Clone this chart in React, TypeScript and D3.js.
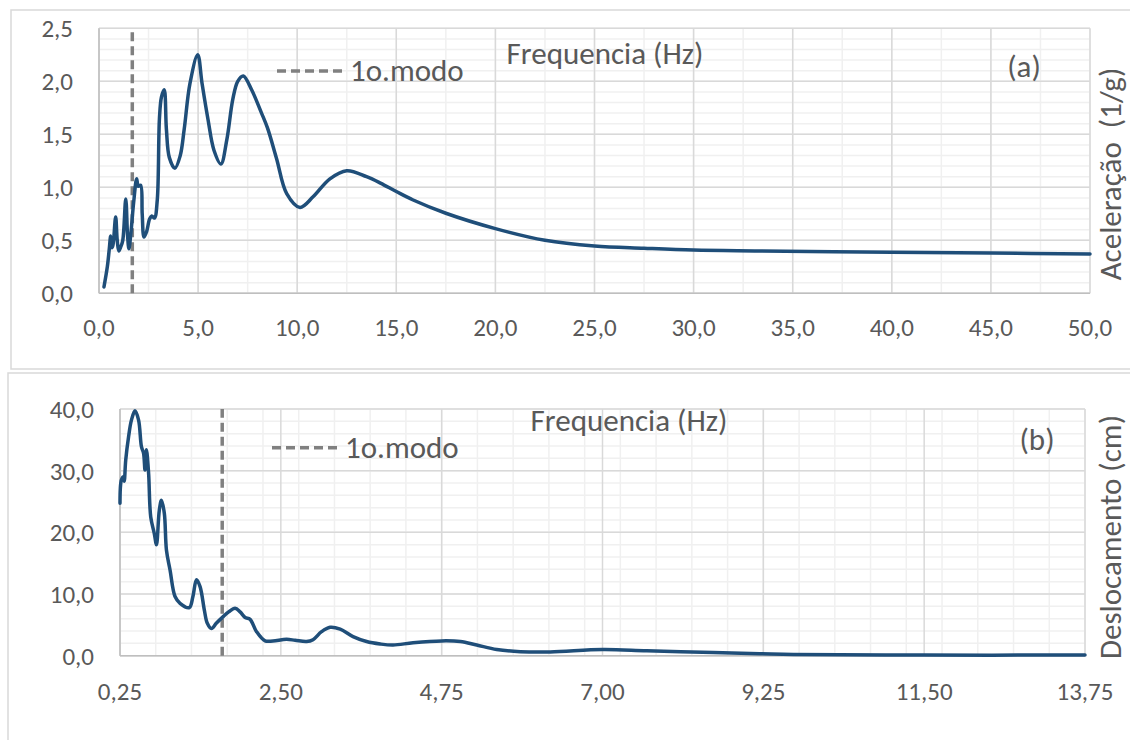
import React from "react";
import * as d3 from "d3";

// ---- Data ----
const accFreq = [0.25,0.42,0.52,0.59,0.65,0.70,0.84,0.92,1.0,1.1,1.2,1.35,1.44,1.51,1.6,1.75,1.9,1.98,2.1,2.18,2.27,2.4,2.55,2.66,2.8,2.94,3.05,3.15,3.29,3.4,3.55,3.83,4.1,4.3,4.59,4.98,5.2,5.5,5.8,6.15,6.45,6.75,7.0,7.28,7.7,8.2,8.5,8.96,9.47,10.14,10.8,11.65,12.5,13.5,14.2,15.0,15.85,17.5,20,22.5,25,27.5,30,33.3,40,45,50];
const accValue = [0.06,0.25,0.42,0.54,0.43,0.45,0.72,0.50,0.40,0.44,0.50,0.89,0.55,0.42,0.55,0.86,1.08,1.01,1.02,0.75,0.53,0.58,0.70,0.73,0.71,0.88,1.65,1.85,1.92,1.55,1.28,1.18,1.3,1.55,1.98,2.25,1.98,1.64,1.35,1.22,1.45,1.83,2.0,2.05,1.92,1.7,1.56,1.27,0.94,0.81,0.91,1.08,1.157,1.1,1.04,0.96,0.88,0.755,0.61,0.50,0.446,0.425,0.408,0.40,0.387,0.38,0.37];

const dispFreq = [0.25,0.27,0.30,0.31,0.33,0.37,0.41,0.46,0.51,0.55,0.58,0.60,0.62,0.65,0.68,0.73,0.76,0.80,0.83,0.87,0.90,0.95,1.02,1.09,1.22,1.27,1.32,1.37,1.43,1.47,1.53,1.60,1.69,1.77,1.86,1.93,2.0,2.07,2.16,2.28,2.39,2.58,2.70,2.86,2.95,3.07,3.19,3.33,3.51,3.70,3.89,4.07,4.35,4.75,5.01,5.24,5.52,5.85,6.27,7.0,7.62,8.55,9.2,9.67,11.5,13.75];
const dispValue = [24.7,28.5,29.0,28.3,31.7,35.5,38.2,39.7,38.2,33.9,32.8,30.1,33.4,29.6,22.5,19.8,18.0,23.6,25.2,23.1,17.1,13.9,9.6,8.5,7.8,9.6,12.3,11.2,7.4,5.3,4.4,5.3,6.3,7.1,7.7,7.1,6.2,5.9,3.9,2.4,2.4,2.65,2.5,2.3,2.6,3.9,4.6,4.3,3.1,2.3,1.9,1.73,2.1,2.4,2.3,1.73,1.0,0.65,0.6,1.0,0.8,0.5,0.33,0.2,0.1,0.1];

const modeFreq = 1.68;

const accXTicks = [0, 5, 10, 15, 20, 25, 30, 35, 40, 45, 50];
const accYTicks = [0, 0.5, 1.0, 1.5, 2.0, 2.5];
const dispXTicks = [0.25, 2.5, 4.75, 7.0, 9.25, 11.5, 13.75];
const dispYTicks = [0, 10, 20, 30, 40];

const FONT = "Carlito, Calibri, Lato, sans-serif";
const TXT = "#595959";
const LINE = "#1f4e79";
const MAJ = "#d9d9d9";
const MIN = "#f0f0f0";
const AXIS = "#bfbfbf";
const TICK_FS = 25;
const TITLE_FS = 31;

type PanelProps = {
  xs: number[]; ys: number[];
  xDomain: [number, number]; yDomain: [number, number];
  xRange: [number, number]; yRange: [number, number];
  xTicks: number[]; yTicks: number[];
  xMinorStep: number; yMinorStep: number;
  xDec: number; yDec: number;
  yTitle: string; yTitleCenter: number;
  titleX: number; titleY: number;
  legendX: number; legendY: number;
  tag: string; tagX: number; tagY: number;
  yLabelRight: number; xLabelY: number;
};

function fmt(v: number, dec: number) {
  return v.toFixed(dec).replace(".", ",");
}

function Panel(p: PanelProps) {
  const x = d3.scaleLinear().domain(p.xDomain).range(p.xRange);
  const y = d3.scaleLinear().domain(p.yDomain).range(p.yRange);
  const [x0, x1] = p.xRange;
  const [yb, yt] = p.yRange;
  const xMinor = d3.range(p.xDomain[0], p.xDomain[1] + 1e-9, p.xMinorStep);
  const yMinor = d3.range(p.yDomain[0], p.yDomain[1] + 1e-9, p.yMinorStep);
  const pts: [number, number][] = p.xs.map((v, i) => [v, p.ys[i]]);
  const line = d3.line<[number, number]>()
    .x((d) => x(d[0]))
    .y((d) => y(d[1]))
    .curve(d3.curveCatmullRom.alpha(0.5));
  return (
    <g>
      {yMinor.map((v, i) => (
        <line key={"ym" + i} x1={x0} x2={x1} y1={y(v)} y2={y(v)} stroke={MIN} strokeWidth={1.5} />
      ))}
      {xMinor.map((v, i) => (
        <line key={"xm" + i} x1={x(v)} x2={x(v)} y1={yb} y2={yt} stroke={MIN} strokeWidth={1.5} />
      ))}
      {p.yTicks.map((v, i) => (
        <line key={"yg" + i} x1={x0} x2={x1} y1={y(v)} y2={y(v)} stroke={MAJ} strokeWidth={1.5} />
      ))}
      {p.xTicks.map((v, i) => (
        <line key={"xg" + i} x1={x(v)} x2={x(v)} y1={yb} y2={yt} stroke={MAJ} strokeWidth={1.5} />
      ))}
      <line x1={x0} x2={x0} y1={yb} y2={yt} stroke={AXIS} strokeWidth={1.5} />
      <line x1={x0} x2={x1} y1={yb} y2={yb} stroke={AXIS} strokeWidth={1.5} />
      {p.yTicks.map((v, i) => (
        <text key={"yl" + i} x={p.yLabelRight} y={y(v) + 9} textAnchor="end" fontSize={TICK_FS} fill={TXT} fontFamily={FONT}>
          {fmt(v, p.yDec)}
        </text>
      ))}
      {p.xTicks.map((v, i) => (
        <text key={"xl" + i} x={x(v)} y={p.xLabelY} textAnchor="middle" fontSize={TICK_FS} fill={TXT} fontFamily={FONT}>
          {fmt(v, p.xDec)}
        </text>
      ))}
      <text x={p.titleX} y={p.titleY} textAnchor="middle" fontSize={TITLE_FS} fill={TXT} fontFamily={FONT}>Frequencia (Hz)</text>
      <line x1={x(modeFreq)} x2={x(modeFreq)} y1={yb} y2={yt} stroke="#808080" strokeWidth={3.5} strokeDasharray="9,5" />
      <line x1={p.legendX} x2={p.legendX + 70} y1={p.legendY} y2={p.legendY} stroke="#808080" strokeWidth={3.5} strokeDasharray="9,5" />
      <text x={p.legendX + 73} y={p.legendY + 10} fontSize={TITLE_FS} fill={TXT} fontFamily={FONT}>1o.modo</text>
      <path d={line(pts) || ""} fill="none" stroke={LINE} strokeWidth={3.5} strokeLinejoin="round" strokeLinecap="round" />
      <text x={p.tagX} y={p.tagY} textAnchor="middle" fontSize={TITLE_FS} fill={TXT} fontFamily={FONT}>{p.tag}</text>
      <text transform={`translate(1121,${p.yTitleCenter}) rotate(-90)`} textAnchor="middle" fontSize={TITLE_FS} fill={TXT} fontFamily={FONT} style={{ whiteSpace: "pre" }}>
        {p.yTitle}
      </text>
    </g>
  );
}

export default function App() {
  return (
    <svg width={1130} height={740} style={{ position: "absolute", left: 0, top: 0, background: "#fff" }}>
      <rect x={0} y={0} width={1130} height={740} fill="#fff" />
      <rect x={11} y={10} width={1200} height={359} fill="none" stroke={MAJ} strokeWidth={1.5} />
      <rect x={8} y={373} width={1200} height={400} fill="none" stroke={MAJ} strokeWidth={1.5} />
      <Panel
        xs={accFreq} ys={accValue}
        xDomain={[0, 50]} yDomain={[0, 2.5]}
        xRange={[99, 1090]} yRange={[293.3, 28.3]}
        xTicks={accXTicks} yTicks={accYTicks}
        xMinorStep={2.5} yMinorStep={0.1}
        xDec={1} yDec={1}
        yTitle={"Aceleração  (1/g)"} yTitleCenter={174}
        titleX={605} titleY={64}
        legendX={277} legendY={71}
        tag="(a)" tagX={1024} tagY={77}
        yLabelRight={73} xLabelY={336}
      />
      <Panel
        xs={dispFreq} ys={dispValue}
        xDomain={[0.25, 13.75]} yDomain={[0, 40]}
        xRange={[120, 1085]} yRange={[655.7, 409]}
        xTicks={dispXTicks} yTicks={dispYTicks}
        xMinorStep={0.5} yMinorStep={2}
        xDec={2} yDec={1}
        yTitle={"Deslocamento (cm)"} yTitleCenter={537}
        titleX={629} titleY={431}
        legendX={272} legendY={447.7}
        tag="(b)" tagX={1037} tagY={450}
        yLabelRight={94} xLabelY={700}
      />
    </svg>
  );
}
